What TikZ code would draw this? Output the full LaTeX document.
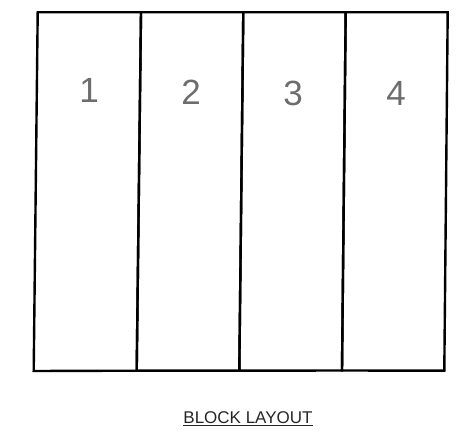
\documentclass[tikz,border=0pt]{standalone}
\usepackage{fontspec}
\setmainfont{Liberation Sans}
\usepackage{xcolor}
\usetikzlibrary{positioning}
\definecolor{numgray}{HTML}{6D6D6D}

\begin{document}
\begin{tikzpicture}[x=1pt,y=-1pt,
    blockline/.style={draw,line width=2.4pt,line join=miter},
    blocknum/.style={text=numgray,font=\fontsize{35}{40}\selectfont,inner sep=0pt},
    caption/.style={font=\fontsize{17}{20}\selectfont,text=black!85,inner sep=0pt}]
  \useasboundingbox (0,0) rectangle (458,435);
  % corners, top and bottom edge
  \coordinate (t0) at (37.7,12.3);  \coordinate (b0) at (33.7,371);
  \coordinate (t1) at (141,12.3);   \coordinate (b1) at (136.7,370.7);
  \coordinate (t2) at (243.3,12.3); \coordinate (b2) at (239.3,370.7);
  \coordinate (t3) at (345.7,12.3); \coordinate (b3) at (342,370.5);
  \coordinate (t4) at (447.7,12.3); \coordinate (b4) at (444.3,370.7);
  % the four blocks
  \draw[blockline] (t0) -- (t1) -- (b1) -- (b0) -- cycle;
  \draw[blockline] (t1) -- (t2) -- (b2) -- (b1) -- cycle;
  \draw[blockline] (t2) -- (t3) -- (b3) -- (b2) -- cycle;
  \draw[blockline] (t3) -- (t4) -- (b4) -- (b3) -- cycle;
  \node[blocknum] (n1) at (89,90) {1};
  \node[blocknum] (n2) at (191,92) {2};
  \node[blocknum] (n3) at (293,93) {3};
  \node[blocknum] (n4) at (396,93) {4};
  \node[caption,anchor=base] (title) at (248,424) {\underline{BLOCK LAYOUT}};
\end{tikzpicture}
\end{document}
